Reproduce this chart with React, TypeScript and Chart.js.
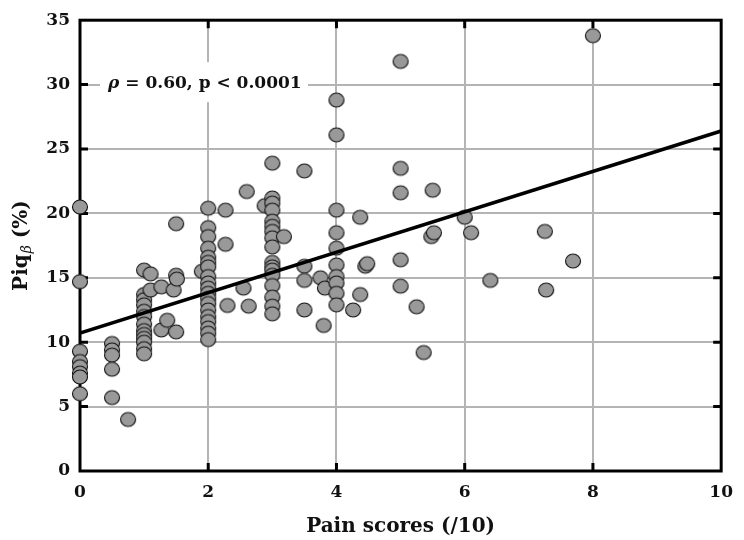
import { useEffect, useRef } from "react";
import { Chart, registerables } from "chart.js";

Chart.register(...registerables);

const FONT = '"DejaVu Serif", "Liberation Serif", serif';

// Pain score (/10) for each subject
const painScores = [
  0, 0, 0, 0, 0, 0, 0, 0,
  0.5, 0.5, 0.5, 0.5, 0.5,
  0.75,
  1, 1, 1, 1, 1, 1, 1, 1, 1, 1, 1, 1, 1,
  1.1, 1.1, 1.27, 1.27, 1.36, 1.46,
  1.5, 1.5, 1.51, 1.5,
  1.9,
  2, 2, 2, 2, 2, 2, 2, 2, 2, 2, 2, 2, 2, 2, 2, 2, 2, 2, 2,
  2.27, 2.27, 2.3, 2.55, 2.6, 2.63, 2.88,
  3, 3, 3, 3, 3, 3, 3, 3, 3, 3, 3, 3, 3, 3, 3, 3, 3,
  3.18,
  3.5, 3.5, 3.5, 3.5,
  3.75, 3.82, 3.8,
  4, 4, 4, 4, 4, 4, 4, 4, 4, 4,
  4.26, 4.37, 4.37, 4.45, 4.48,
  5, 5, 5, 5, 5,
  5.25, 5.36, 5.48, 5.52, 5.5,
  6.0, 6.1, 6.4,
  7.25, 7.27, 7.69,
  8.0,
];

// Piq-beta (%) for each subject, same order as painScores
const piqBeta = [
  20.5, 14.7, 9.3, 8.5, 8.1, 7.6, 7.3, 6.0,
  9.9, 9.4, 9.0, 7.9, 5.7,
  4.0,
  15.6, 13.7, 13.3, 12.9, 12.4, 12.0, 11.4, 10.9, 10.6, 10.3, 10.0, 9.5, 9.1,
  15.3, 14.05, 14.3, 10.95, 11.7, 14.05,
  19.2, 15.2, 14.9, 10.8,
  15.5,
  20.4, 18.9, 18.2, 17.3, 16.6, 16.2, 15.85, 15.1, 14.6, 14.2, 13.8, 13.4, 13.0, 12.5, 12.0, 11.6, 11.1, 10.7, 10.2,
  20.25, 17.6, 12.85, 14.2, 21.7, 12.8, 20.6,
  23.9, 21.2, 20.8, 20.25, 19.4, 19.0, 18.6, 18.1, 17.4, 16.2, 15.85, 15.6, 15.2, 14.4, 13.5, 12.8, 12.2,
  18.2,
  23.3, 15.9, 14.8, 12.5,
  15.0, 14.2, 11.3,
  28.8, 26.1, 20.25, 18.5, 17.3, 16.0, 15.1, 14.6, 13.8, 12.9,
  12.5, 19.7, 13.7, 15.9, 16.1,
  31.8, 23.5, 21.6, 16.4, 14.35,
  12.75, 9.2, 18.2, 18.5, 21.8,
  19.7, 18.5, 14.8,
  18.6, 14.05, 16.3,
  33.8,
];

// Linear fit end points
const fitX = [0, 10];
const fitY = [10.7, 26.4];

const xTickValues = [2, 4, 6, 8];
const yTickValues = [5, 10, 15, 20, 25, 30];

const statText = " = 0.60, p < 0.0001";
const xTitle = "Pain scores (/10)";

function makeMarker(): HTMLCanvasElement {
  const c = document.createElement("canvas");
  c.width = 18;
  c.height = 18;
  const g = c.getContext("2d")!;
  g.beginPath();
  g.ellipse(9, 9, 7.5, 7.0, 0, 0, Math.PI * 2);
  g.fillStyle = "#999999";
  g.fill();
  g.lineWidth = 1.1;
  g.strokeStyle = "#111111";
  g.stroke();
  return c;
}

const framePlugin = {
  id: "frameAndLabels",
  beforeDatasetsDraw(chart: any) {
    const { ctx, chartArea, scales } = chart;
    const { left, right, top, bottom } = chartArea;
    const xs = scales.x;
    const ys = scales.y;
    ctx.save();

    // statistics label with its white backing
    const boxL = left + 20;
    const boxT = top + 42;
    ctx.fillStyle = "#ffffff";
    ctx.fillRect(boxL, boxT, 208, 40);
    ctx.fillStyle = "#111111";
    ctx.textBaseline = "alphabetic";
    ctx.textAlign = "left";
    ctx.font = `italic bold 17px ${FONT}`;
    const tx = left + 28;
    const ty = top + 68;
    ctx.fillText("ρ", tx, ty);
    const rw = ctx.measureText("ρ").width;
    ctx.font = `bold 17px ${FONT}`;
    ctx.fillText(statText, tx + rw, ty);

    // frame
    ctx.strokeStyle = "#000000";
    ctx.lineWidth = 3;
    ctx.strokeRect(left, top, right - left, bottom - top);

    // inward tick marks on all four sides
    ctx.beginPath();
    for (const v of xTickValues) {
      const px = xs.getPixelForValue(v);
      ctx.moveTo(px, bottom);
      ctx.lineTo(px, bottom - 8);
      ctx.moveTo(px, top);
      ctx.lineTo(px, top + 8);
    }
    for (const v of yTickValues) {
      const py = ys.getPixelForValue(v);
      ctx.moveTo(left, py);
      ctx.lineTo(left + 8, py);
      ctx.moveTo(right, py);
      ctx.lineTo(right - 8, py);
    }
    ctx.stroke();

    // x axis title
    ctx.fillStyle = "#111111";
    ctx.font = `bold 20px ${FONT}`;
    ctx.textAlign = "center";
    ctx.fillText(xTitle, (left + right) / 2, bottom + 61);

    // y axis title: Piq with subscript beta
    ctx.translate(27, (top + bottom) / 2);
    ctx.rotate(-Math.PI / 2);
    ctx.textAlign = "left";
    const big = `bold 20px ${FONT}`;
    const sub = `italic 14px ${FONT}`;
    ctx.font = big;
    const w1 = ctx.measureText("Piq").width;
    const w3 = ctx.measureText(" (%)").width;
    ctx.font = sub;
    const w2 = ctx.measureText("β").width + 1;
    let cx = -(w1 + w2 + w3) / 2;
    ctx.font = big;
    ctx.fillText("Piq", cx, 0);
    cx += w1;
    ctx.font = sub;
    ctx.fillText("β", cx + 1, 4);
    cx += w2;
    ctx.font = big;
    ctx.fillText(" (%)", cx, 0);

    ctx.restore();
  },
};

export default function App() {
  const ref = useRef<HTMLCanvasElement>(null);

  useEffect(() => {
    if (!ref.current) return;
    const marker = makeMarker();
    const points = painScores.map((x, i) => ({ x, y: piqBeta[i] }));
    const fit = fitX.map((x, i) => ({ x, y: fitY[i] }));

    const chart = new Chart(ref.current, {
      type: "scatter",
      data: {
        datasets: [
          {
            type: "line",
            data: fit,
            borderColor: "#000000",
            borderWidth: 3.5,
            pointRadius: 0,
            fill: false,
            order: 0,
          } as any,
          {
            data: points,
            pointStyle: marker as any,
            pointRadius: 8,
            clip: false,
            order: 1,
          } as any,
        ],
      },
      options: {
        responsive: false,
        animation: false,
        layout: { padding: { top: 20, right: 19, left: 0, bottom: 0 } },
        plugins: {
          legend: { display: false },
          tooltip: { enabled: false },
        },
        scales: {
          x: {
            type: "linear",
            min: 0,
            max: 10,
            ticks: {
              stepSize: 2,
              padding: 11,
              color: "#111111",
              font: { family: FONT, size: 17, weight: "bold" },
            },
            grid: { color: "#b4b4b4", lineWidth: 2, drawTicks: false },
            border: { display: false },
            afterFit: (s: any) => {
              s.height = 69;
            },
          },
          y: {
            type: "linear",
            min: 0,
            max: 35,
            ticks: {
              stepSize: 5,
              padding: 10,
              color: "#111111",
              font: { family: FONT, size: 17, weight: "bold" },
            },
            grid: { color: "#b4b4b4", lineWidth: 2, drawTicks: false },
            border: { display: false },
            afterFit: (s: any) => {
              s.width = 80;
            },
          },
        },
      },
      plugins: [framePlugin],
    });

    return () => chart.destroy();
  }, []);

  return (
    <div style={{ position: "fixed", left: 0, top: 0, width: 744, height: 540, background: "#fff" }}>
      <canvas ref={ref} width={744} height={540} />
    </div>
  );
}
